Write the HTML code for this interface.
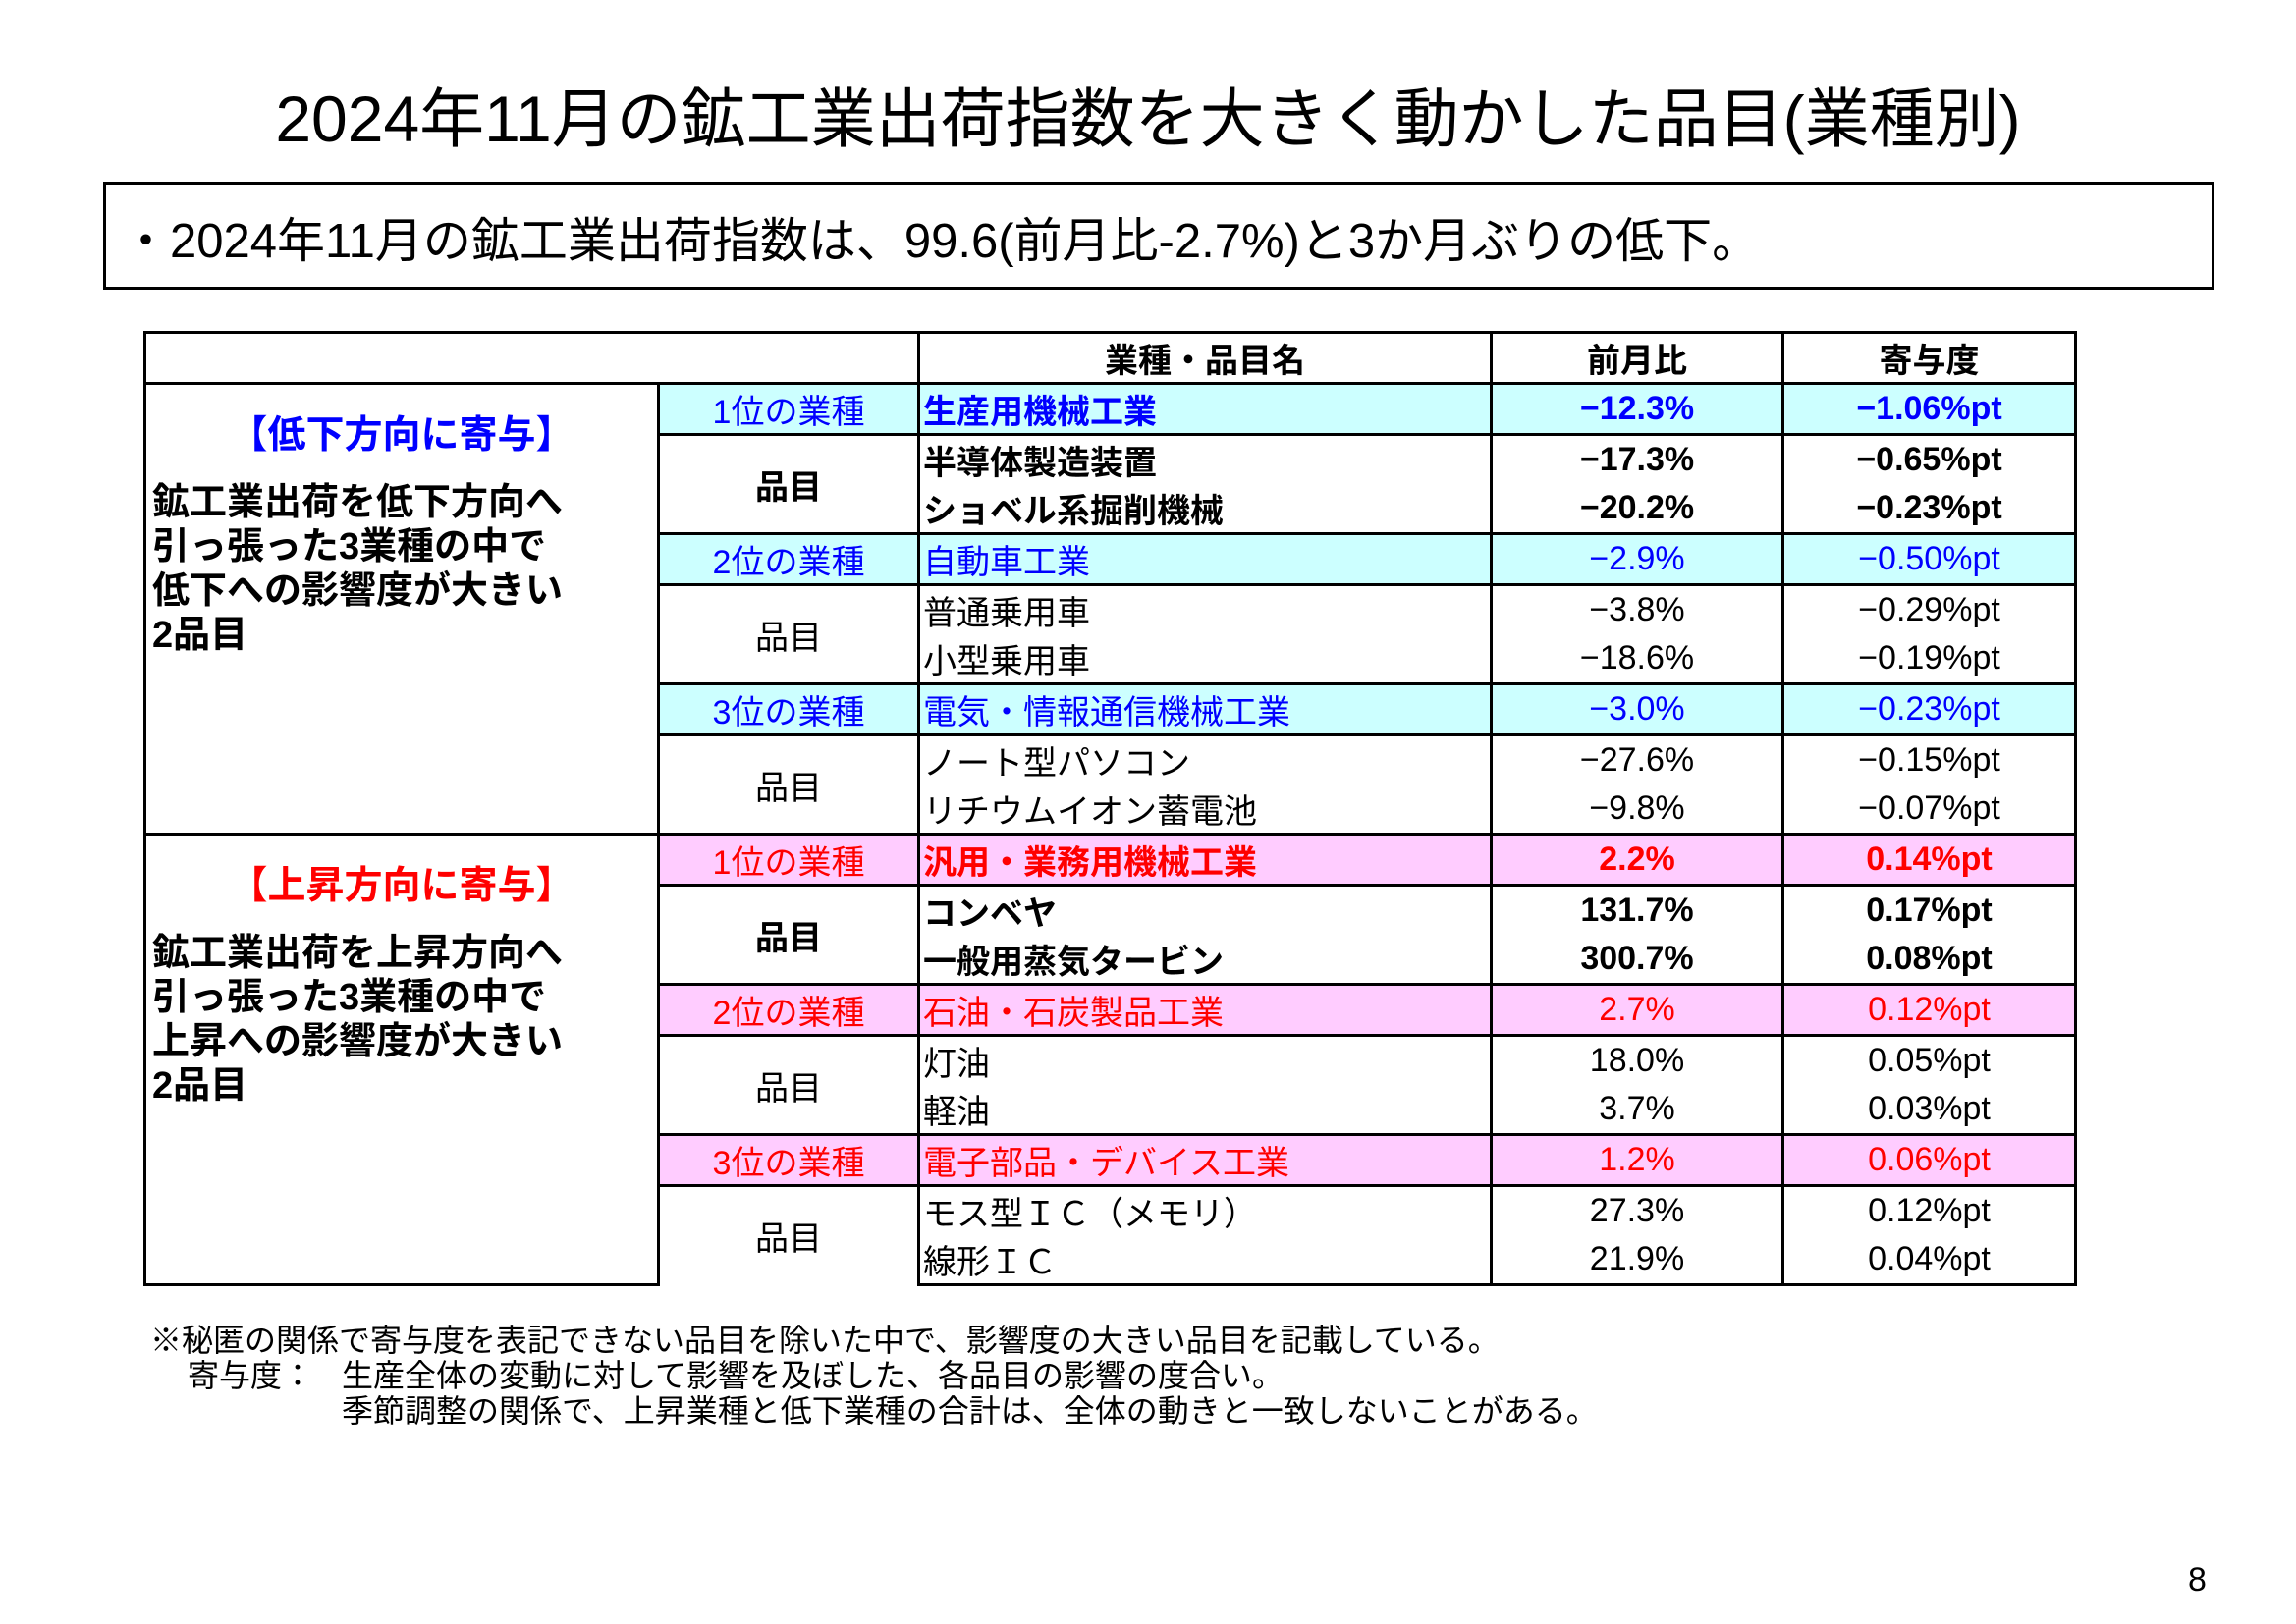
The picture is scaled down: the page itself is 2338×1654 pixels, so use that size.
<!DOCTYPE html>
<html><head><meta charset="utf-8"><style>
body{margin:0;width:2338px;height:1654px;background:#fff;position:relative;font-family:"Liberation Sans","Noto Sans CJK JP",sans-serif;overflow:hidden}
.t{position:absolute;white-space:nowrap}
table{position:absolute;left:146px;top:337px;border-collapse:collapse;table-layout:fixed}
td{border:3px solid #000;height:45px;padding:0 3px;font-size:34px;white-space:nowrap;overflow:hidden}
td.c{text-align:center}
tr.ind td{background:#ccffff;border-bottom:2px dashed #000}
tr.indr td{background:#ffccff;border-bottom:2px dashed #000}
tr.i1 td{border-bottom:none}
tr.i2 td{border-top:none}
td.left{background:#fff!important;vertical-align:top;border-bottom:3px solid #000!important;padding:0 6px}
.b{color:#0000ff}.r{color:#ff0000}
.bd{font-weight:bold}
</style></head><body>
<div class="t" style="left:0;width:2338px;text-align:center;top:68px;font-size:66px">2024年11月の鉱工業出荷指数を大きく動かした品目(業種別)</div>
<div class="t" style="left:105px;top:185px;width:2144px;height:104px;border:3px solid #000"></div>
<div class="t" style="left:124px;top:206px;font-size:49px">・2024年11月の鉱工業出荷指数は、99.6(前月比-2.7%)と3か月ぶりの低下。</div>
<table>
<colgroup><col style="width:523px"><col style="width:265px"><col style="width:583px"><col style="width:297px"><col style="width:298px"></colgroup>
<tr style="height:52px"><td colspan="2"></td><td class="c bd">業種・品目名</td><td class="c bd">前月比</td><td class="c bd">寄与度</td></tr>
<tr class="ind"><td rowspan="9" class="left"><div class="b bd" style="text-align:center;font-size:39px;margin-top:20px">【低下方向に寄与】</div><div class="bd" style="font-size:38px;line-height:45px;margin-top:22px">鉱工業出荷を低下方向へ<br>引っ張った3業種の中で<br>低下への影響度が大きい<br>2品目</div></td>
<td class="c b">1位の業種</td><td class="b bd">生産用機械工業</td><td class="c b bd">−12.3%</td><td class="c b bd">−1.06%pt</td></tr>
<tr class="i1"><td rowspan="2" class="c bd">品目</td><td class="bd">半導体製造装置</td><td class="c bd">−17.3%</td><td class="c bd">−0.65%pt</td></tr>
<tr class="i2"><td class="bd">ショベル系掘削機械</td><td class="c bd">−20.2%</td><td class="c bd">−0.23%pt</td></tr>
<tr class="ind"><td class="c b">2位の業種</td><td class="b">自動車工業</td><td class="c b">−2.9%</td><td class="c b">−0.50%pt</td></tr>
<tr class="i1"><td rowspan="2" class="c">品目</td><td>普通乗用車</td><td class="c">−3.8%</td><td class="c">−0.29%pt</td></tr>
<tr class="i2"><td>小型乗用車</td><td class="c">−18.6%</td><td class="c">−0.19%pt</td></tr>
<tr class="ind"><td class="c b">3位の業種</td><td class="b">電気・情報通信機械工業</td><td class="c b">−3.0%</td><td class="c b">−0.23%pt</td></tr>
<tr class="i1"><td rowspan="2" class="c">品目</td><td>ノート型パソコン</td><td class="c">−27.6%</td><td class="c">−0.15%pt</td></tr>
<tr class="i2"><td>リチウムイオン蓄電池</td><td class="c">−9.8%</td><td class="c">−0.07%pt</td></tr>
<tr class="indr"><td rowspan="9" class="left"><div class="r bd" style="text-align:center;font-size:39px;margin-top:20px">【上昇方向に寄与】</div><div class="bd" style="font-size:38px;line-height:45px;margin-top:22px">鉱工業出荷を上昇方向へ<br>引っ張った3業種の中で<br>上昇への影響度が大きい<br>2品目</div></td>
<td class="c r">1位の業種</td><td class="r bd">汎用・業務用機械工業</td><td class="c r bd">2.2%</td><td class="c r bd">0.14%pt</td></tr>
<tr class="i1"><td rowspan="2" class="c bd">品目</td><td class="bd">コンベヤ</td><td class="c bd">131.7%</td><td class="c bd">0.17%pt</td></tr>
<tr class="i2"><td class="bd">一般用蒸気タービン</td><td class="c bd">300.7%</td><td class="c bd">0.08%pt</td></tr>
<tr class="indr"><td class="c r">2位の業種</td><td class="r">石油・石炭製品工業</td><td class="c r">2.7%</td><td class="c r">0.12%pt</td></tr>
<tr class="i1"><td rowspan="2" class="c">品目</td><td>灯油</td><td class="c">18.0%</td><td class="c">0.05%pt</td></tr>
<tr class="i2"><td>軽油</td><td class="c">3.7%</td><td class="c">0.03%pt</td></tr>
<tr class="indr"><td class="c r">3位の業種</td><td class="r">電子部品・デバイス工業</td><td class="c r">1.2%</td><td class="c r">0.06%pt</td></tr>
<tr class="i1"><td rowspan="2" class="c">品目</td><td>モス型ＩＣ（メモリ）</td><td class="c">27.3%</td><td class="c">0.12%pt</td></tr>
<tr class="i2"><td>線形ＩＣ</td><td class="c">21.9%</td><td class="c">0.04%pt</td></tr>
</table>
<div class="t" style="left:153px;top:1340px;font-size:32px">※秘匿の関係で寄与度を表記できない品目を除いた中で、影響度の大きい品目を記載している。</div>
<div class="t" style="left:191px;top:1376px;font-size:32px">寄与度：</div>
<div class="t" style="left:348px;top:1376px;font-size:32px">生産全体の変動に対して影響を及ぼした、各品目の影響の度合い。</div>
<div class="t" style="left:348px;top:1412px;font-size:32px">季節調整の関係で、上昇業種と低下業種の合計は、全体の動きと一致しないことがある。</div>
<div class="t" style="left:2228px;top:1590px;font-size:34px">8</div>
</body></html>
